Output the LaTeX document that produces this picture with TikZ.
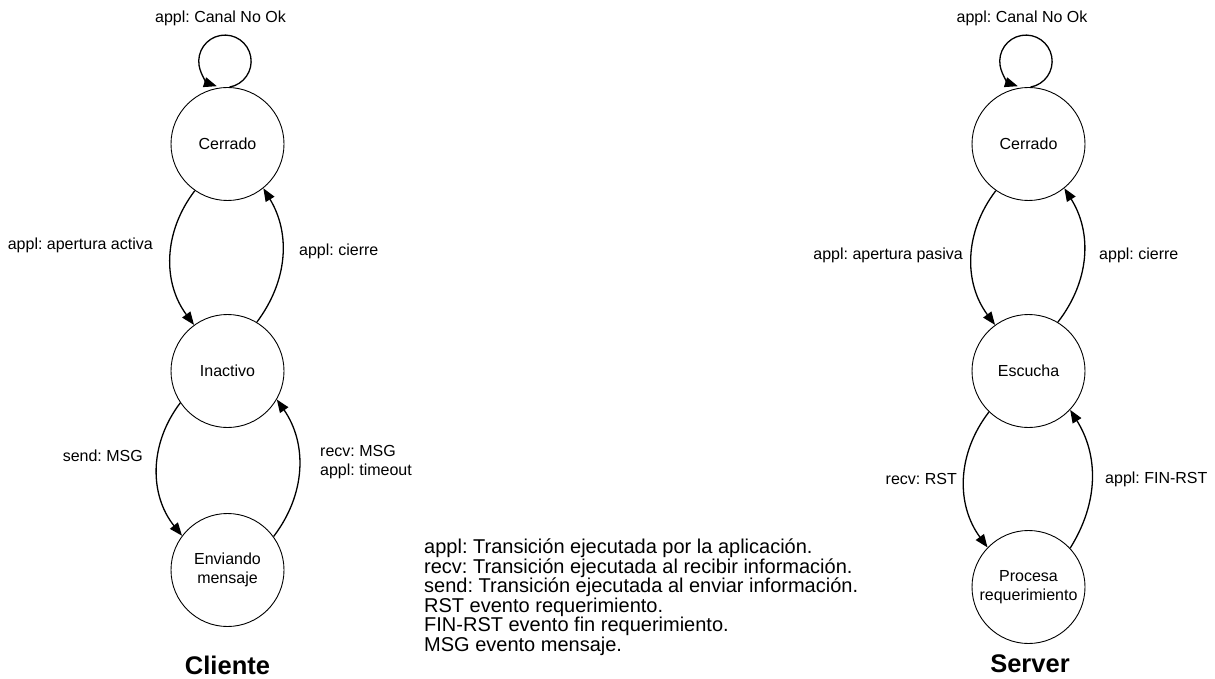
\documentclass[tikz,border=0pt]{standalone}
\usepackage{fontspec}
\setmainfont{Liberation Sans}
\usetikzlibrary{arrows.meta}
\frenchspacing
\begin{document}
\begin{tikzpicture}[x=1pt,y=1pt,
  state/.style={circle, draw, line width=0.9pt, minimum size=113pt, inner sep=0pt,
                align=center, font=\fontsize{16}{19.2}\selectfont},
  trans/.style={line width=1.3pt, -{Triangle[length=13pt,width=10pt]}},
  lbl/.style={inner sep=0pt, font=\fontsize{16}{19.2}\selectfont, align=left},
  legend/.style={inner sep=0pt, font=\fontsize{20}{19.5}\selectfont, align=left},
  title/.style={inner sep=0pt, font=\fontsize{25.5}{30}\selectfont\bfseries}]
\useasboundingbox (0,0) rectangle (1215,-679);

% ---- Cliente ----
\node[state] (cc) at (227.5,-144) {Cerrado};
\node[state] (ci) at (227.5,-371) {Inactivo};
\node[state] (ce) at (227.5,-570) {Enviando\\mensaje};
\node[title] (ct) at (227.5,-665) {Cliente};

\draw[trans] (cc.88) arc[start angle=-80, end angle=252, radius=26.2];
\node[lbl] (cl0) at (220.5,-18) {appl: Canal No Ok};

\draw[trans] (cc.235) to[bend right=37] (ci.126);
\draw[trans] (ci.59) to[bend right=34] (cc.309);
\draw[trans] (ci.214) to[bend right=38] (ce.143);
\draw[trans] (ce.36) to[bend right=36] (ci.330);

\node[lbl, anchor=east] (cl1) at (153,-245) {appl: apertura activa};
\node[lbl, anchor=west] (cl2) at (299,-251) {appl: cierre};
\node[lbl, anchor=east] (cl3) at (143,-456) {send: MSG};
\node[lbl, anchor=west] (cl4) at (320,-462) {recv: MSG\\appl: timeout};

% ---- Server ----
\node[state] (sc) at (1028.5,-144) {Cerrado};
\node[state] (se) at (1028.5,-371) {Escucha};
\node[state] (sp) at (1028.5,-587) {Procesa\\requerimiento};
\node[title] (st) at (1030,-664) {Server};

\draw[trans] (sc.88) arc[start angle=-80, end angle=252, radius=26.2];
\node[lbl] (sl0) at (1022,-18) {appl: Canal No Ok};

\draw[trans] (sc.235) to[bend right=37] (se.126);
\draw[trans] (se.59) to[bend right=35] (sc.309);
\draw[trans] (se.226) to[bend right=37] (sp.136);
\draw[trans] (sp.43) to[bend right=32] (se.317);

\node[lbl, anchor=east] (sl1) at (963,-255) {appl: apertura pasiva};
\node[lbl, anchor=west] (sl2) at (1099,-255) {appl: cierre};
\node[lbl, anchor=east] (sl3) at (957,-479) {recv: RST};
\node[lbl, anchor=west] (sl4) at (1105,-479) {appl: FIN-RST};

% ---- Leyenda ----
\node[legend, anchor=north west] (ley) at (424,-539) {%
  appl: Transición ejecutada por la aplicación.\\
  recv: Transición ejecutada al recibir información.\\
  send: Transición ejecutada al enviar información.\\
  RST evento requerimiento.\\
  FIN-RST evento fin requerimiento.\\
  MSG evento mensaje.};
\end{tikzpicture}
\end{document}
